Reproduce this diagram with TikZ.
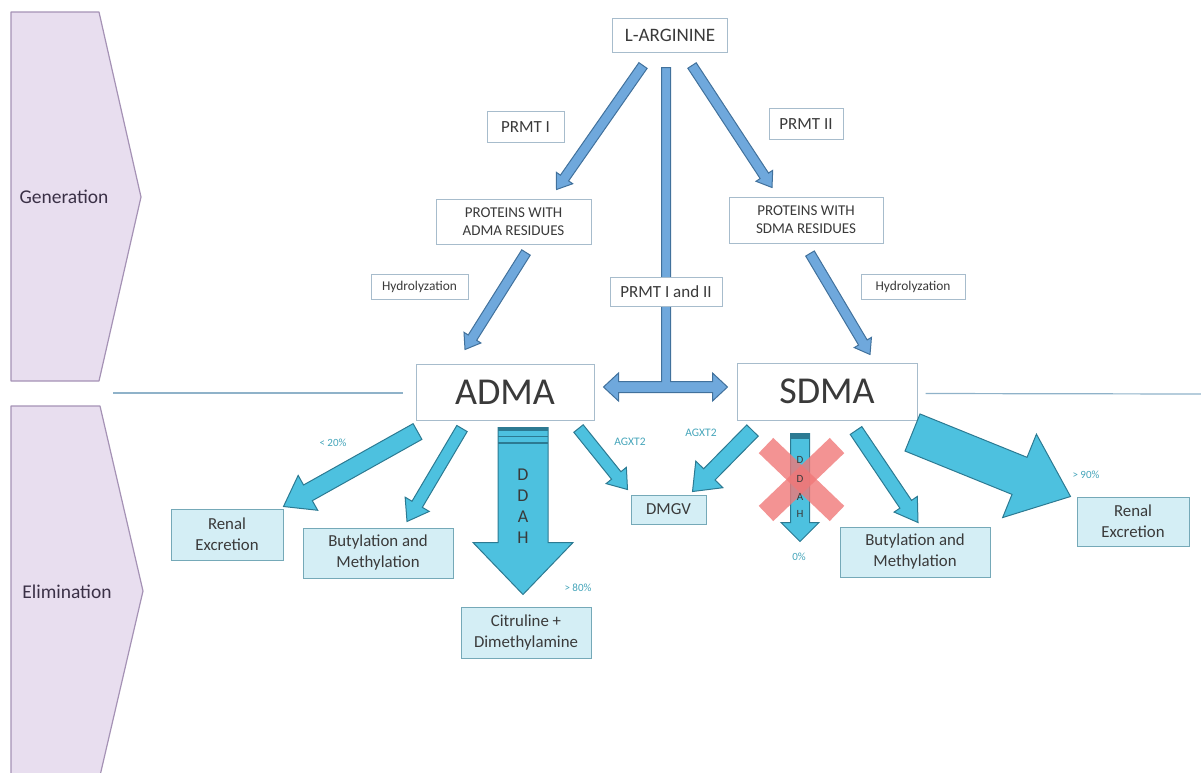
\documentclass[tikz,border=0pt]{standalone}
\usepackage{fontspec}
\setmainfont{Carlito}
\usetikzlibrary{calc}
\definecolor{chevfill}{HTML}{E8DEEF}
\definecolor{chevline}{HTML}{A592B5}
\definecolor{chevtext}{HTML}{3A3046}
\definecolor{sepline}{HTML}{8FB2C9}
\definecolor{genline}{HTML}{A7BCCC}
\definecolor{boxtext}{HTML}{3A3A3A}
\definecolor{genfill}{HTML}{6FA8DC}
\definecolor{genedge}{HTML}{41719C}
\definecolor{elimfill}{HTML}{D4EEF5}
\definecolor{elimline}{HTML}{75A9B8}
\definecolor{elimarr}{HTML}{4DC1DF}
\definecolor{elimedge}{HTML}{2C7A92}
\definecolor{pcttext}{HTML}{45A5BA}
\definecolor{xred}{HTML}{F07878}
% block arrow: [style]{from}{to}{shaft half width}{head half width}{head length}
\newcommand{\blockarrow}[6][]{%
  \coordinate (bh) at ($(#3)!#6!(#2)$);
  \draw[#1] ($(#2)!#4!90:(#3)$) -- ($(bh)!#4!90:(#3)$) -- ($(bh)!#5!90:(#3)$) -- (#3)
    -- ($(bh)!#5!-90:(#3)$) -- ($(bh)!#4!-90:(#3)$) -- ($(#2)!#4!-90:(#3)$) -- cycle;}
\begin{document}
\begin{tikzpicture}[x=1pt,y=-1pt,
  phase/.style={fill=chevfill,draw=chevline,line width=1.2pt,line join=round},
  phaselbl/.style={text=chevtext,font=\fontsize{19.5}{22}\selectfont},
  genbox/.style={draw=genline,line width=1pt,fill=white,text=boxtext,align=center,inner sep=0pt},
  elimbox/.style={draw=elimline,line width=1pt,fill=elimfill,text=boxtext,align=center,inner sep=0pt,
    minimum height=50pt,font=\fontsize{16.8}{21}\selectfont},
  genarrow/.style={fill=genfill,draw=genedge,line width=1pt},
  elimarrow/.style={fill=elimarr,draw=elimedge,line width=1pt},
  pct/.style={text=pcttext,font=\fontsize{11}{13}\selectfont},
  ]
\useasboundingbox (0,0) rectangle (1201,772);

% phases on the left
\draw[phase] (11,12) -- (99,12) -- (141,197) -- (99,381) -- (11,381) -- cycle;
\node[phaselbl] (gen) at (64,197) {Generation};
\draw[phase] (11,780) -- (11,406) -- (100,406) -- (143,591) -- (99,780);
\node[phaselbl] (elim) at (67,592) {Elimination};

% generation
\node[genbox,minimum width=115pt,minimum height=34pt,font=\fontsize{19}{22}\selectfont] (arg) at (670,35) {L-ARGININE};
\node[genbox,minimum width=77pt,minimum height=31pt,font=\fontsize{17}{20}\selectfont] (prmtA) at (525.5,127) {PRMT I};
\node[genbox,minimum width=74pt,minimum height=31pt,font=\fontsize{17}{20}\selectfont] (prmtB) at (806,124) {PRMT II};
\node[genbox,minimum width=155pt,minimum height=45pt,font=\fontsize{15}{18}\selectfont] (protA) at (513.5,221.5) {PROTEINS WITH\\ADMA RESIDUES};
\node[genbox,minimum width=154pt,minimum height=46pt,font=\fontsize{15}{18}\selectfont] (protS) at (806,220) {PROTEINS WITH\\SDMA RESIDUES};
\node[genbox,minimum width=97pt,minimum height=25pt,font=\fontsize{13.4}{16}\selectfont] (hydA) at (419.5,287) {Hydrolyzation};
\node[genbox,minimum width=104pt,minimum height=25pt,font=\fontsize{13.4}{16}\selectfont] (hydS) at (913,287) {Hydrolyzation};
\node[genbox,minimum width=112pt,minimum height=29pt,font=\fontsize{17}{20}\selectfont] (prmtAB) at (666,291.5) {PRMT I and II};
\node[genbox,minimum width=178pt,minimum height=56pt,font=\fontsize{38}{40}\selectfont] (adma) at (505,392) {ADMA};
\node[genbox,minimum width=180pt,minimum height=57pt,font=\fontsize{38}{40}\selectfont] (sdma) at (827,391.5) {SDMA};

\draw[sepline,line width=1.2pt] (113,393) -- ($(adma.west)+(-13,1)$);
\draw[sepline,line width=1.2pt] ($(sdma.east)+(8,2)$) -- (1201,394);

\coordinate (a1) at ($(arg.south)+(-27,13)$);
\coordinate (a2) at ($(protA.north)+(43,-9)$);
\coordinate (b1) at ($(arg.south)+(22,13)$);
\coordinate (b2) at ($(protS.north)+(-34,-9)$);
\coordinate (c1) at ($(protA.south)+(12.5,8)$);
\coordinate (c2) at ($(adma.north)+(-40,-14)$);
\coordinate (d1) at ($(protS.south)+(4,10)$);
\coordinate (d2) at ($(sdma.north)+(43,-8)$);
\blockarrow[genarrow]{a1}{a2}{5pt}{10pt}{14pt}
\blockarrow[genarrow]{b1}{b2}{5pt}{10pt}{14pt}
\blockarrow[genarrow]{c1}{c2}{5pt}{10pt}{14pt}
\blockarrow[genarrow]{d1}{d2}{5pt}{10pt}{14pt}
% PRMT I and II: bar down into the double arrow
\coordinate (tl) at ($(adma.east)+(9,-5)$);
\coordinate (tr) at ($(sdma.west)+(-9,-4.5)$);
\coordinate (tt) at ($(arg.south)+(-4,15)$);
\draw[genarrow] (tl) -- ++(15,-14) -- ++(0,8.5) -| ([xshift=-4.5pt]tt) -- ++(9,0) |- ($(tr)+(-15,-5.5)$)
  -- ++(0,-8.5) -- (tr) -- ++(-15,14) -- ++(0,-8.5) -- ($(tl)+(15,5.5)$) -- ++(0,8.5) -- cycle;
\node[genbox] at (prmtAB) [minimum width=112pt,minimum height=29pt,font=\fontsize{17}{20}\selectfont] {PRMT I and II};

% elimination
\node[elimbox,minimum width=112pt,minimum height=51pt] (renA) at (227,534.5) {Renal\\Excretion};
\node[elimbox,minimum width=150pt] (butA) at (378,553) {Butylation and\\Methylation};
\node[elimbox,minimum width=130pt,minimum height=51pt] (citr) at (526,632.5) {Citruline +\\Dimethylamine};
\node[elimbox,minimum width=75pt,minimum height=29pt] (dmgv) at (668.5,509.5) {DMGV};
\node[elimbox,minimum width=150pt] (butS) at (915,552) {Butylation and\\Methylation};
\node[elimbox,minimum width=112pt,minimum height=49pt] (renS) at (1133,521.5) {Renal\\Excretion};

\coordinate (e1) at ($(adma.south west)+(2,11)$);
\coordinate (e2) at ($(renA.north east)+(0,-2)$);
\coordinate (f1) at ($(adma.south)+(-43,8)$);
\coordinate (f2) at ($(butA.north)+(29,-6)$);
\coordinate (g1) at ($(adma.south)+(18,7)$);
\coordinate (g2) at ($(citr.north)+(-3,-12)$);
\coordinate (h1) at ($(adma.south east)+(-16,8)$);
\coordinate (h2) at ($(dmgv.north west)+(-3,-5)$);
\coordinate (i1) at ($(sdma.south west)+(16,10)$);
\coordinate (i2) at ($(dmgv.north east)+(-14,-3)$);
\coordinate (j1) at ($(sdma.south)+(-27,13)$);
\coordinate (j2) at ($(j1)+(0,108)$);
\coordinate (k1) at ($(sdma.south)+(29,10)$);
\coordinate (k2) at ($(butS.north)+(3,-4)$);
\coordinate (m1) at ($(sdma.south east)+(-5,12)$);
\coordinate (m2) at ($(renS.north west)+(-6,0)$);
\blockarrow[elimarrow]{e1}{e2}{9pt}{20pt}{28pt}
\blockarrow[elimarrow]{f1}{f2}{6pt}{14pt}{20pt}
\blockarrow[elimarrow]{g1}{g2}{25pt}{50pt}{52pt}
\blockarrow[elimarrow]{h1}{h2}{6pt}{13pt}{18pt}
\blockarrow[elimarrow]{i1}{i2}{8pt}{19pt}{24pt}
\blockarrow[elimarrow]{j1}{j2}{9.5pt}{19pt}{19pt}
\blockarrow[elimarrow]{k1}{k2}{7pt}{14pt}{22pt}
\blockarrow[elimarrow]{m1}{m2}{20pt}{45pt}{55pt}

% DDAH stripes and letters
\foreach \y/\w in {1.5/3, 9/1.5, 15.5/1.5}
  \draw[elimedge,line width=\w pt] ($(g1)+(-25,\y)$) -- ++(50,0);
\draw[elimedge,line width=5pt] ($(j1)+(-9.5,3)$) -- ++(19,0);
\foreach \y [count=\i] in {47,68,89,110}
  \node[text=boxtext,font=\fontsize{18}{20}\selectfont] (bigL\i) at ($(g1)+(0,\y)$) {\ifcase\i\or D\or D\or A\or H\fi};
% the crossed out DDAH for SDMA
\draw[xred,opacity=0.8,line width=21pt] ($(j1)+(-34,12)$) -- ($(j1)+(37,80)$);
\draw[xred,opacity=0.8,line width=21pt] ($(j1)+(37,12)$) -- ($(j1)+(-34,80)$);
\foreach \y [count=\i] in {26,45,63,80}
  \node[text=boxtext,font=\fontsize{11}{13}\selectfont] (smallL\i) at ($(j1)+(0,\y)$) {\ifcase\i\or D\or D\or A\or H\fi};

% percentages and enzyme labels
\node[pct] (lt20) at (333,443) {< 20\%};
\node[pct] (gt80) at (578,588) {> 80\%};
\node[pct,font=\fontsize{11.5}{13}\selectfont] (agxA) at (630,442) {AGXT2};
\node[pct,font=\fontsize{11.5}{13}\selectfont] (agxS) at (701,433) {AGXT2};
\node[pct] (zero) at (799,557) {0\%};
\node[pct] (gt90) at (1086,475) {> 90\%};
\end{tikzpicture}
\end{document}
